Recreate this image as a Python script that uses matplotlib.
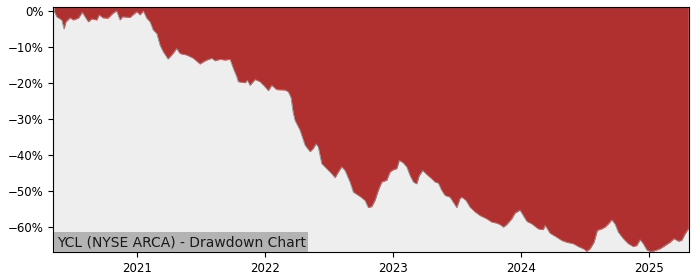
import matplotlib
matplotlib.use("Agg")
import matplotlib.pyplot as plt
import matplotlib.dates as mdates
from matplotlib.ticker import FuncFormatter
from datetime import datetime, timedelta

# Dates as decimal years, drawdown in percent
years = [
    2020.352, 2020.373, 2020.412, 2020.430, 2020.445, 2020.477, 2020.502, 2020.541,
    2020.573, 2020.594, 2020.620, 2020.646, 2020.685, 2020.705, 2020.734, 2020.773,
    2020.813, 2020.841, 2020.867, 2020.888, 2020.945, 2020.984, 2021.000, 2021.023,
    2021.049, 2021.076, 2021.102, 2021.127, 2021.154, 2021.180, 2021.205, 2021.242,
    2021.271, 2021.310, 2021.336, 2021.388, 2021.440, 2021.492, 2021.518, 2021.545,
    2021.584, 2021.609, 2021.648, 2021.688, 2021.727, 2021.752, 2021.779, 2021.791,
    2021.844, 2021.862, 2021.883, 2021.922, 2021.961, 2022.000, 2022.026, 2022.052,
    2022.091, 2022.156, 2022.182, 2022.203, 2022.219, 2022.234, 2022.273, 2022.313,
    2022.352, 2022.377, 2022.398, 2022.416, 2022.443, 2022.482, 2022.521, 2022.547,
    2022.573, 2022.599, 2022.625, 2022.664, 2022.690, 2022.742, 2022.781, 2022.807,
    2022.834, 2022.859, 2022.885, 2022.912, 2022.951, 2022.977, 2023.002, 2023.029,
    2023.049, 2023.080, 2023.107, 2023.133, 2023.159, 2023.185, 2023.205, 2023.232,
    2023.263, 2023.302, 2023.328, 2023.354, 2023.380, 2023.406, 2023.445, 2023.471,
    2023.498, 2023.523, 2023.537, 2023.570, 2023.602, 2023.641, 2023.680, 2023.732,
    2023.771, 2023.810, 2023.836, 2023.862, 2023.888, 2023.927, 2023.953, 2023.992,
    2024.018, 2024.045, 2024.084, 2024.135, 2024.174, 2024.188, 2024.227, 2024.279,
    2024.318, 2024.357, 2024.409, 2024.448, 2024.487, 2024.513, 2024.539, 2024.570,
    2024.596, 2024.630, 2024.656, 2024.682, 2024.709, 2024.734, 2024.760, 2024.799,
    2024.838, 2024.877, 2024.904, 2024.930, 2024.955, 2024.982, 2025.013, 2025.047,
    2025.086, 2025.125, 2025.164, 2025.195, 2025.229, 2025.255, 2025.281, 2025.307,
]
drawdown = [
    0.0, -1.6, -2.5, -5.0, -3.0, -1.9, -2.5, -2.0,
    -0.4, -1.6, -3.0, -2.2, -2.5, -1.1, -1.9, -2.0,
    -0.6, 0.0, -2.5, -1.6, -1.8, -0.6, -0.2, -1.1,
    0.0, -2.0, -3.0, -5.3, -6.2, -9.5, -11.3, -13.3,
    -12.2, -10.4, -11.8, -12.2, -13.1, -14.7, -14.1, -13.6,
    -13.1, -13.8, -13.4, -13.6, -13.4, -15.9, -18.2, -19.6,
    -19.9, -19.2, -20.6, -19.0, -19.6, -21.0, -22.1, -20.6,
    -21.8, -21.9, -22.4, -24.0, -28.0, -30.3, -33.0, -37.2,
    -39.0, -38.1, -36.8, -37.7, -42.3, -43.7, -45.1, -46.2,
    -44.6, -43.2, -44.2, -47.4, -50.2, -51.4, -52.5, -54.5,
    -54.2, -52.5, -49.7, -47.4, -46.9, -44.6, -44.0, -43.7,
    -41.4, -42.1, -43.2, -45.6, -47.4, -47.9, -45.6, -44.2,
    -45.3, -46.5, -47.4, -47.7, -49.7, -51.1, -51.6, -53.0,
    -54.5, -52.0, -51.6, -52.5, -54.4, -55.7, -56.7, -57.6,
    -58.5, -58.8, -59.2, -59.9, -59.2, -57.6, -56.0, -55.2,
    -56.7, -58.3, -59.0, -60.4, -60.6, -59.4, -61.6, -62.7,
    -63.6, -64.1, -64.5, -65.3, -65.9, -66.6, -65.9, -64.1,
    -60.8, -60.4, -59.9, -59.0, -57.9, -59.0, -61.3, -63.1,
    -64.5, -65.3, -65.0, -63.4, -64.5, -66.2, -66.7, -66.4,
    -65.9, -65.0, -64.1, -63.1, -63.8, -63.6, -61.8, -60.4,
]
title_text = "YCL (NYSE ARCA) - Drawdown Chart"


def to_date(y):
    return datetime(2021, 1, 1) + timedelta(days=(y - 2021.0) * 365.25)


dates = [to_date(y) for y in years]

fig = plt.figure(figsize=(7.0, 2.8), dpi=100)
ax = fig.add_axes([53 / 700, 28 / 280, 636 / 700, 245 / 280])
ax.set_facecolor("#eeeeee")

ymin, ymax = -66.8, 1.1
ax.fill_between(dates, drawdown, ymax + 5, color="#b03030", linewidth=0)
ax.plot(dates, drawdown, color="#8c8c8c", linewidth=0.6)

ax.set_xlim(to_date(2020.344), to_date(2025.3125))
ax.set_ylim(ymin, ymax)

ax.xaxis.set_major_locator(mdates.YearLocator())
ax.xaxis.set_major_formatter(mdates.DateFormatter("%Y"))
ax.set_yticks([0, -10, -20, -30, -40, -50, -60])
ax.yaxis.set_major_formatter(FuncFormatter(lambda v, p: f"{int(v)}%".replace("-", "\u2212")))
ax.tick_params(labelsize=8.5)

ax.annotate(title_text, xy=(0, 0), xycoords="axes fraction",
            xytext=(2.6, 2.0), textcoords="offset points",
            ha="left", va="bottom", fontsize=10, color="#1a1a1a",
            bbox=dict(facecolor="#b3b3b3", edgecolor="none", pad=2.0))

fig.savefig("out.png", dpi=100)
